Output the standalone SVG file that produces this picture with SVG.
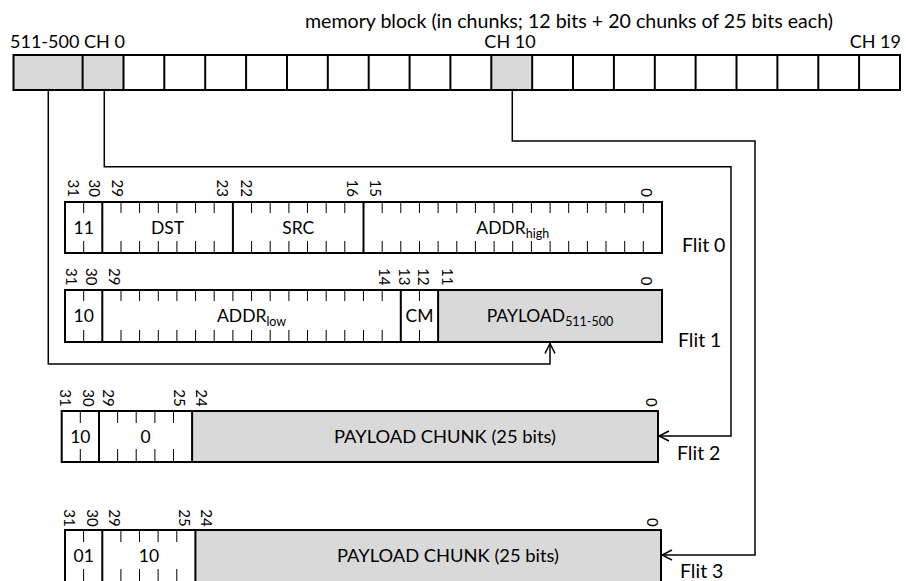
<svg xmlns="http://www.w3.org/2000/svg" width="906" height="581" viewBox="0 0 906 581">
<defs>
<style>
text{font-family:Lato,"Liberation Sans",sans-serif;fill:#000}
.hd{font-size:18px}
.f{font-size:17.5px;text-anchor:middle}
.l{font-size:19.5px}
.b{font-size:15px;text-anchor:end}
.sub{font-size:12.5px}
.box{fill:none;stroke:#000;stroke-width:2}
.div{stroke:#000;stroke-width:2;fill:none}
.tick{stroke:#000;stroke-width:1;fill:none}
.gray{fill:#d9d9d9;stroke:none}
.con{fill:none;stroke:#000;stroke-width:1.5}
</style>
<marker id="arr" viewBox="0 0 12 12" refX="11" refY="6" markerWidth="12" markerHeight="12" markerUnits="userSpaceOnUse" orient="auto">
<path d="M1,1 L11,6 L1,11" fill="none" stroke="#000" stroke-width="1.5"/>
</marker>
</defs>
<rect width="906" height="581" fill="#fff"/>

<g id="memory-block">
<text class="hd" x="305" y="28" style="font-size:19px" textLength="528" lengthAdjust="spacingAndGlyphs">memory block (in chunks; 12 bits + 20 chunks of 25 bits each)</text>
<text class="hd" x="10" y="48">511-500</text>
<text class="hd" x="84" y="48">CH 0</text>
<text class="hd" x="510" y="48" text-anchor="middle">CH 10</text>
<text class="hd" x="901" y="48" text-anchor="end">CH 19</text>
<rect class="gray" x="13.5" y="55" width="69.1" height="35"/>
<rect class="gray" x="82.6" y="55" width="40.9" height="35"/>
<rect class="gray" x="491.3" y="55" width="40.9" height="35"/>
<path class="div" d="M82.6 55V90M123.5 55V90M164.3 55V90M205.2 55V90M246.1 55V90M287 55V90M327.8 55V90M368.7 55V90M409.6 55V90M450.4 55V90M491.3 55V90M532.2 55V90M573 55V90M613.9 55V90M654.8 55V90M695.6 55V90M736.5 55V90M777.4 55V90M818.3 55V90M859.1 55V90"/>
<rect class="box" x="13.5" y="55" width="886.5" height="35"/>
</g>

<g id="flit0">
<text class="b" transform="translate(67.5,197) rotate(90)">31</text>
<text class="b" transform="translate(88.5,197) rotate(90)">30</text>
<text class="b" transform="translate(111.5,197) rotate(90)">29</text>
<text class="b" transform="translate(217,197) rotate(90)">23</text>
<text class="b" transform="translate(241.2,197) rotate(90)">22</text>
<text class="b" transform="translate(347,197) rotate(90)">16</text>
<text class="b" transform="translate(370.3,197) rotate(90)">15</text>
<text class="b" transform="translate(641.2,197) rotate(90)">0</text>
<path class="tick" d="M83.7 202v11M83.7 253v-12M121 202v11M121 253v-12M139.6 202v11M139.6 253v-12M158.3 202v11M158.3 253v-12M176.9 202v11M176.9 253v-12M195.6 202v11M195.6 253v-12M214.2 202v11M214.2 253v-12M251.6 202v11M251.6 253v-12M270.2 202v11M270.2 253v-12M288.9 202v11M288.9 253v-12M307.5 202v11M307.5 253v-12M326.2 202v11M326.2 253v-12M344.8 202v11M344.8 253v-12M382.2 202v11M382.2 253v-12M400.8 202v11M400.8 253v-12M419.5 202v11M419.5 253v-12M438.1 202v11M438.1 253v-12M456.8 202v11M456.8 253v-12M475.4 202v11M475.4 253v-12M494.1 202v11M494.1 253v-12M512.7 202v11M512.7 253v-12M531.4 202v11M531.4 253v-12M550.1 202v11M550.1 253v-12M568.7 202v11M568.7 253v-12M587.4 202v11M587.4 253v-12M606 202v11M606 253v-12M624.7 202v11M624.7 253v-12M643.3 202v11M643.3 253v-12"/>
<path class="div" d="M102.3 202V253M232.9 202V253M363.5 202V253"/>
<rect class="box" x="65" y="202" width="597" height="51"/>
<text class="f" x="83.7" y="234">11</text>
<text class="f" x="167.6" y="234">DST</text>
<text class="f" x="298.2" y="234">SRC</text>
<text class="f" x="512.8" y="234">ADDR<tspan class="sub" dy="4">high</tspan></text>
<text class="l" x="682" y="251.7">Flit 0</text>
</g>

<g id="flit1">
<text class="b" transform="translate(65.5,285.5) rotate(90)">31</text>
<text class="b" transform="translate(85.5,285.5) rotate(90)">30</text>
<text class="b" transform="translate(108.5,285.5) rotate(90)">29</text>
<text class="b" transform="translate(379.2,285.5) rotate(90)">14</text>
<text class="b" transform="translate(399.2,285.5) rotate(90)">13</text>
<text class="b" transform="translate(417.8,285.5) rotate(90)">12</text>
<text class="b" transform="translate(442,285.5) rotate(90)">11</text>
<text class="b" transform="translate(641.2,285.5) rotate(90)">0</text>
<rect class="gray" x="438.1" y="290" width="223.9" height="52"/>
<path class="tick" d="M83.7 290v11M83.7 342v-12M121 290v11M121 342v-12M139.6 290v11M139.6 342v-12M158.3 290v11M158.3 342v-12M176.9 290v11M176.9 342v-12M195.6 290v11M195.6 342v-12M214.2 290v11M214.2 342v-12M232.9 290v11M232.9 342v-12M251.6 290v11M251.6 342v-12M270.2 290v11M270.2 342v-12M288.9 290v11M288.9 342v-12M307.5 290v11M307.5 342v-12M326.2 290v11M326.2 342v-12M344.8 290v11M344.8 342v-12M363.5 290v11M363.5 342v-12M382.2 290v11M382.2 342v-12M419.5 290v11M419.5 342v-12"/>
<path class="div" d="M102.3 290V342M400.8 290V342M438.1 290V342"/>
<rect class="box" x="65" y="290" width="597" height="52"/>
<text class="f" x="83.7" y="321.5">10</text>
<text class="f" x="251.6" y="321.5">ADDR<tspan class="sub" dy="4">low</tspan></text>
<text class="f" x="419.5" y="321.5">CM</text>
<text class="f" x="550" y="321.5">PAYLOAD<tspan class="sub" dy="4">511-500</tspan></text>
<text class="l" x="678" y="346.7">Flit 1</text>
</g>

<g id="flit2">
<text class="b" transform="translate(59.5,406.7) rotate(90)">31</text>
<text class="b" transform="translate(83,406.7) rotate(90)">30</text>
<text class="b" transform="translate(103.2,406.7) rotate(90)">29</text>
<text class="b" transform="translate(173.5,406.7) rotate(90)">25</text>
<text class="b" transform="translate(196.2,406.7) rotate(90)">24</text>
<text class="b" transform="translate(645.5,406.7) rotate(90)">0</text>
<rect class="gray" x="192.1" y="411" width="465.9" height="51"/>
<path class="tick" d="M80.3 411v12M80.3 462v-13M117.6 411v12M117.6 462v-13M136.2 411v12M136.2 462v-13M154.9 411v12M154.9 462v-13M173.5 411v12M173.5 462v-13"/>
<path class="div" d="M99 411V462M192.1 411V462"/>
<rect class="box" x="61.7" y="411" width="596.3" height="51"/>
<text class="f" x="80.3" y="442.5">10</text>
<text class="f" x="145.6" y="442.5">0</text>
<text class="f" x="445" y="442.5" textLength="222" lengthAdjust="spacingAndGlyphs" text-anchor="middle" style="text-anchor:start" dx="-111">PAYLOAD CHUNK (25 bits)</text>
<text class="l" x="677" y="460">Flit 2</text>
</g>

<g id="flit3">
<text class="b" transform="translate(63.5,526.7) rotate(90)">31</text>
<text class="b" transform="translate(86.5,526.7) rotate(90)">30</text>
<text class="b" transform="translate(108.5,526.7) rotate(90)">29</text>
<text class="b" transform="translate(178.5,526.7) rotate(90)">25</text>
<text class="b" transform="translate(201.2,526.7) rotate(90)">24</text>
<text class="b" transform="translate(646.5,526.7) rotate(90)">0</text>
<rect class="gray" x="195.4" y="530" width="465.6" height="52"/>
<path class="tick" d="M83.6 530v12M83.6 582v-13M120.9 530v12M120.9 582v-13M139.5 530v12M139.5 582v-13M158.1 530v12M158.1 582v-13M176.8 530v12M176.8 582v-13"/>
<path class="div" d="M102.3 530V582M195.4 530V582"/>
<rect class="box" x="65" y="530" width="596" height="52"/>
<text class="f" x="83.7" y="562">01</text>
<text class="f" x="148.9" y="562">10</text>
<text class="f" x="448" y="562" textLength="222" lengthAdjust="spacingAndGlyphs" style="text-anchor:start" dx="-111">PAYLOAD CHUNK (25 bits)</text>
<text class="l" x="680" y="578">Flit 3</text>
</g>

<g id="connectors">
<path class="con" d="M48.3 90V364H550V343.5" marker-end="url(#arr)"/>
<path class="con" d="M104.3 90V166.7H731V436H659" marker-end="url(#arr)"/>
<path class="con" d="M512.3 90V141H755V555H662" marker-end="url(#arr)"/>
</g>
</svg>
